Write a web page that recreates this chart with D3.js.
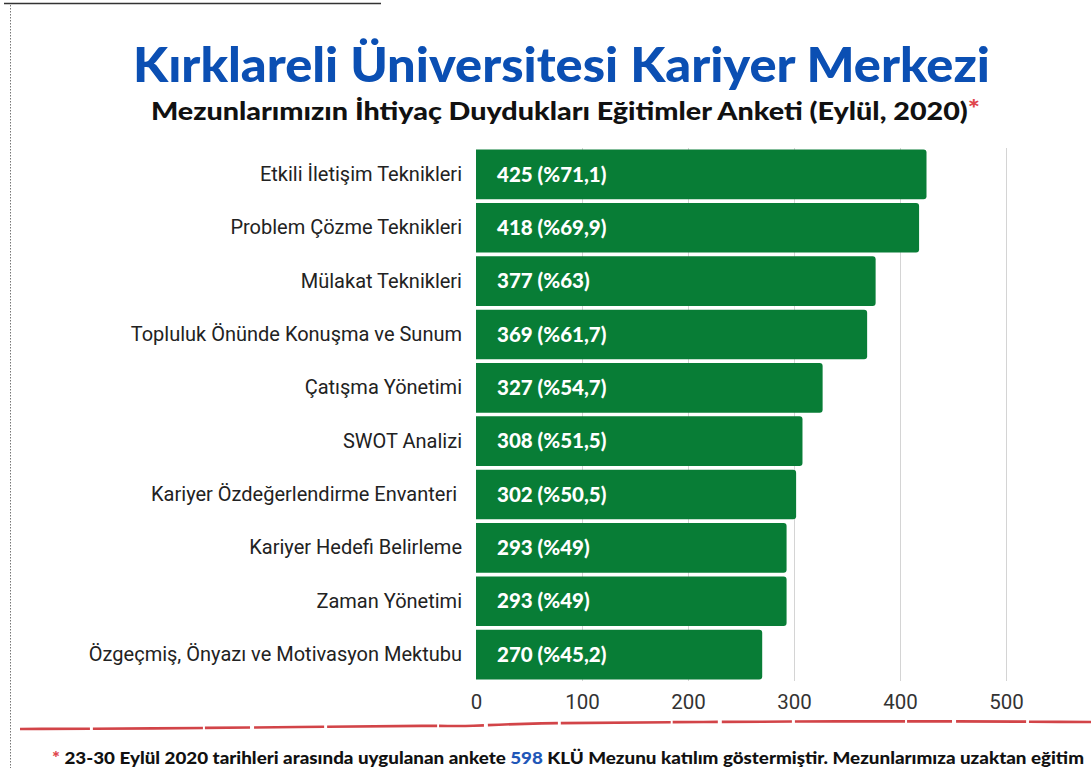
<!DOCTYPE html>
<html>
<head>
<meta charset="utf-8">
<script src="https://cdn.jsdelivr.net/npm/d3@7"></script>
<style>
  body { margin: 0; background: #fff; }
  svg { display: block; }
</style>
</head>
<body>
<svg id="chart"></svg>
<script>
var categories = [
    "Etkili İletişim Teknikleri",
    "Problem Çözme Teknikleri",
    "Mülakat Teknikleri",
    "Topluluk Önünde Konuşma ve Sunum",
    "Çatışma Yönetimi",
    "SWOT Analizi",
    "Kariyer Özdeğerlendirme Envanteri ",
    "Kariyer Hedefi Belirleme",
    "Zaman Yönetimi",
    "Özgeçmiş, Önyazı ve Motivasyon Mektubu"
];
var counts = [425, 418, 377, 369, 327, 308, 302, 293, 293, 270];
var percents = ["71,1", "69,9", "63", "61,7", "54,7", "51,5", "50,5", "49", "49", "45,2"];
var ticks = [0, 100, 200, 300, 400, 500];

var width = 1091,
    height = 768;

var svg = d3.select("#chart")
    .attr("width", width)
    .attr("height", height);

// frame remnants from the original scan
svg.append("line")
    .attr("x1", 4).attr("x2", 381)
    .attr("y1", 3.5).attr("y2", 3.5)
    .attr("stroke", "#333").attr("stroke-width", 1.5);
svg.append("line")
    .attr("x1", 10.5).attr("x2", 10.5)
    .attr("y1", 5).attr("y2", height)
    .attr("stroke", "#777").attr("stroke-width", 1)
    .attr("stroke-dasharray", "1.5,1.5");

// titles
svg.append("text")
    .attr("x", 133).attr("y", 82)
    .attr("textLength", 857)
    .attr("lengthAdjust", "spacingAndGlyphs")
    .attr("font-family", "Lato, 'Open Sans', sans-serif")
    .attr("font-weight", 900)
    .attr("font-size", 48)
    .attr("fill", "#0b4fb3")
    .text("Kırklareli Üniversitesi Kariyer Merkezi");

var sub = svg.append("text")
    .attr("x", 151).attr("y", 120)
    .attr("textLength", 829)
    .attr("lengthAdjust", "spacingAndGlyphs")
    .attr("font-family", "Lato, 'Open Sans', sans-serif")
    .attr("font-weight", 900)
    .attr("font-size", 24)
    .attr("fill", "#111");
sub.append("tspan").text("Mezunlarımızın İhtiyaç Duydukları Eğitimler Anketi (Eylül, 2020)");
sub.append("tspan").attr("fill", "#e0474c").attr("dy", -2).text("*");

// scales
var x = d3.scaleLinear()
    .domain([0, 500])
    .range([476, 1006]);

var y = d3.scaleBand()
    .domain(categories)
    .range([148, 681])
    .paddingInner(0.07)
    .paddingOuter(0.03);

// gridlines
svg.append("g")
    .selectAll("line")
    .data(ticks.slice(1))
    .join("line")
    .attr("x1", function (d) { return x(d) + 0.5; })
    .attr("x2", function (d) { return x(d) + 0.5; })
    .attr("y1", 148)
    .attr("y2", 681)
    .attr("stroke", "#d4d4d4")
    .attr("stroke-width", 1);

// x axis
var xAxis = d3.axisBottom(x)
    .tickValues(ticks)
    .tickSize(0)
    .tickPadding(11);
var gx = svg.append("g")
    .attr("transform", "translate(0,683)")
    .call(xAxis);
gx.select(".domain").remove();
gx.selectAll("text")
    .attr("font-family", "Roboto, sans-serif")
    .attr("font-size", 20.5)
    .attr("fill", "#333");

// y axis labels
var yAxis = d3.axisLeft(y)
    .tickSize(0)
    .tickPadding(14);
var gy = svg.append("g")
    .attr("transform", "translate(476,0)")
    .call(yAxis);
gy.select(".domain").remove();
gy.selectAll("text")
    .attr("font-family", "Roboto, sans-serif")
    .attr("font-size", 20)
    .attr("fill", "#222")
    .style("white-space", "pre");

// bars
var bars = svg.append("g")
    .selectAll("g")
    .data(counts)
    .join("g");

bars.append("path")
    .attr("d", function (d, i) {
        var x0 = x(0), x1 = x(d), y0 = y(categories[i]), h = y.bandwidth(), r = 3;
        return "M" + x0 + "," + y0 +
            "H" + (x1 - r) +
            "Q" + x1 + "," + y0 + " " + x1 + "," + (y0 + r) +
            "V" + (y0 + h - r) +
            "Q" + x1 + "," + (y0 + h) + " " + (x1 - r) + "," + (y0 + h) +
            "H" + x0 + "Z";
    })
    .attr("fill", "#087d36");

bars.append("text")
    .attr("x", x(0) + 21)
    .attr("y", function (d, i) { return y(categories[i]) + y.bandwidth() / 2; })
    .attr("dy", "0.35em")
    .attr("font-family", "Lato, 'Open Sans', sans-serif")
    .attr("font-weight", 900)
    .attr("font-size", 20.5)
    .attr("fill", "#fff")
    .text(function (d, i) { return d + " (%" + percents[i] + ")"; });

// red hand-drawn underline
var wave = [[20, 729], [150, 728.5], [300, 727], [440, 725.5], [470, 726.5], [520, 723], [700, 722], [900, 721], [1091, 722]];
svg.append("path")
    .attr("d", d3.line().curve(d3.curveBasis)(wave))
    .attr("fill", "none")
    .attr("stroke", "#d24448")
    .attr("stroke-width", 2.6)
    .attr("stroke-dasharray", "70,3,110,2,45,4");

// footnote
var foot = svg.append("text")
    .attr("x", 52).attr("y", 764)
    .attr("textLength", 1032)
    .attr("lengthAdjust", "spacingAndGlyphs")
    .attr("font-family", "Lato, 'Open Sans', sans-serif")
    .attr("font-weight", 900)
    .attr("font-size", 17)
    .attr("fill", "#111")
    .style("white-space", "pre");
foot.append("tspan").attr("fill", "#e0474c").text("* ");
foot.append("tspan").text("23-30 Eylül 2020 tarihleri arasında uygulanan ankete ");
foot.append("tspan").attr("fill", "#1f57b8").text("598");
foot.append("tspan").text(" KLÜ Mezunu katılım göstermiştir. Mezunlarımıza uzaktan eğitim");
</script>
</body>
</html>
